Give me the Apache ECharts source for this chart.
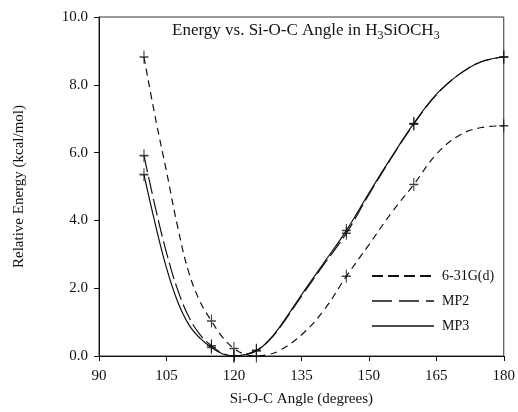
<!DOCTYPE html>
<html>
<head>
<meta charset="utf-8">
<script src="https://cdn.jsdelivr.net/npm/echarts@6/dist/echarts.min.js"></script>
<style>
html,body{margin:0;padding:0;background:#fff;}
#chart{width:518px;height:412px;}
</style>
</head>
<body>
<div id="chart"></div>
<script>
const angles = [100, 102.5, 105, 107.5, 110, 112.5, 115, 117.5, 120, 122.5, 125, 127.5, 130, 135, 140, 145, 150, 155, 160, 165, 170, 175, 180];
// Computed points (marked with +)
const markedAngles = [100, 115, 120, 125, 145, 160, 180];
// Relative energy (kcal/mol)
const e631Gd = [8.82, 7.05, 5.45, 3.80, 2.45, 1.60, 1.03, 0.55, 0.22, 0.05, 0.00, 0.04, 0.15, 0.62, 1.35, 2.35, 3.28, 4.22, 5.06, 5.95, 6.50, 6.74, 6.79];
const eMP2   = [5.91, 4.40, 3.05, 1.95, 1.15, 0.62, 0.30, 0.08, 0.00, 0.04, 0.17, 0.42, 0.80, 1.76, 2.70, 3.62, 4.76, 5.84, 6.84, 7.70, 8.30, 8.68, 8.82];
const eMP3   = [5.35, 3.90, 2.60, 1.60, 0.92, 0.52, 0.25, 0.06, 0.00, 0.04, 0.15, 0.42, 0.82, 1.80, 2.75, 3.70, 4.80, 5.86, 6.86, 7.72, 8.30, 8.68, 8.82];
const seriesNames = ['6-31G(d)', 'MP2', 'MP3'];
const xTicks = [90, 105, 120, 135, 150, 165, 180];
const yTicks = [0, 2, 4, 6, 8, 10];

const FONT = '"Liberation Serif", "DejaVu Serif", serif';
const pairs = arr => angles.map((a, i) => [a, arr[i]]);
const markedPairs = arr => pairs(arr).filter(p => markedAngles.indexOf(p[0]) >= 0);
const crossPath = 'path://M4.4,0H5.6V4.4H10V5.6H5.6V10H4.4V5.6H0V4.4H4.4Z';

function lineSeries(name, arr, dash) {
  return {
    name: name,
    type: 'line',
    data: pairs(arr),
    smooth: 0.4,
    symbol: 'none',
    lineStyle: { color: '#111', width: 1.2, type: dash },
    itemStyle: { color: '#111' },
    z: 3
  };
}
function markerSeries(arr) {
  return {
    type: 'scatter',
    data: markedPairs(arr),
    symbol: crossPath,
    symbolSize: [9, 13],
    itemStyle: { color: '#111' },
    silent: true,
    z: 4
  };
}

const chart = echarts.init(document.getElementById('chart'), null, { renderer: 'canvas' });
chart.setOption({
  backgroundColor: '#fff',
  animation: false,
  title: {
    text: 'Energy vs. Si-O-C Angle in H{sub|3}SiOCH{sub|3}',
    left: 167,
    top: 15,
    textStyle: {
      fontFamily: FONT, fontSize: 17, fontWeight: 'normal', color: '#111',
      rich: {
        sub: { fontFamily: FONT, fontSize: 12, color: '#111', padding: [10, 0, 0, 0] }
      }
    }
  },
  grid: { left: 99, right: 14, top: 17, bottom: 55, show: true, borderColor: '#333', borderWidth: 1 },
  legend: {
    data: [
      { name: seriesNames[0], lineStyle: { type: [11, 5], width: 2 } },
      { name: seriesNames[1], lineStyle: { type: [20, 7], width: 1.4 } },
      { name: seriesNames[2], lineStyle: { width: 1.4 } }
    ],
    orient: 'vertical',
    left: 366,
    top: 264,
    itemWidth: 62,
    itemHeight: 14,
    itemGap: 11,
    itemStyle: { opacity: 0 },
    textStyle: { fontFamily: FONT, fontSize: 14, color: '#111', padding: [0, 0, 0, 3] }
  },
  xAxis: {
    type: 'value',
    min: xTicks[0],
    max: xTicks[xTicks.length - 1],
    interval: 15,
    name: 'Si-O-C Angle (degrees)',
    nameLocation: 'middle',
    nameGap: 36,
    nameTextStyle: { fontFamily: FONT, fontSize: 15, color: '#111' },
    axisLine: { onZero: false, lineStyle: { color: '#111', width: 1.2 } },
    axisTick: { length: 5, lineStyle: { color: '#111' } },
    axisLabel: { fontFamily: FONT, fontSize: 15, color: '#111', margin: 13 },
    splitLine: { show: false }
  },
  yAxis: {
    type: 'value',
    min: yTicks[0],
    max: yTicks[yTicks.length - 1],
    interval: 2,
    name: 'Relative Energy (kcal/mol)',
    nameLocation: 'middle',
    nameGap: 72,
    nameTextStyle: { fontFamily: FONT, fontSize: 15, color: '#111' },
    axisLine: { show: true, lineStyle: { color: '#111', width: 1 } },
    axisTick: { show: true, length: 5, lineStyle: { color: '#111' } },
    axisLabel: { fontFamily: FONT, fontSize: 15, color: '#111', margin: 11, formatter: v => v.toFixed(1) },
    splitLine: { show: false }
  },
  series: [
    lineSeries(seriesNames[0], e631Gd, [7, 5]),
    lineSeries(seriesNames[1], eMP2, [17, 5]),
    lineSeries(seriesNames[2], eMP3, 'solid'),
    markerSeries(e631Gd),
    markerSeries(eMP2),
    markerSeries(eMP3)
  ]
});
</script>
</body>
</html>
